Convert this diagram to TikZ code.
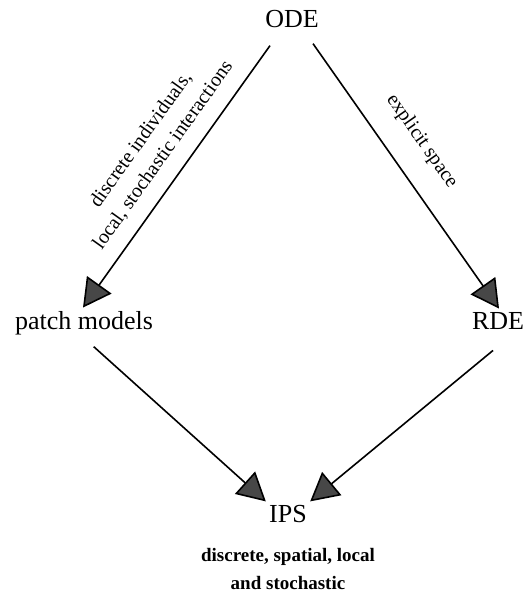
\documentclass[tikz,border=0pt]{standalone}
\usepackage{fontspec}
\setmainfont{Liberation Serif}
\usetikzlibrary{arrows.meta,positioning}

\tikzset{
  model/.style={font=\fontsize{13}{15}\selectfont, inner sep=1.5pt},
  edgelabel/.style={font=\fontsize{10}{13.5}\selectfont, align=center, inner sep=0pt, sloped},
  note/.style={font=\bfseries\fontsize{9.5}{14}\selectfont, align=center, inner sep=0pt},
  arr/.style={line width=0.8pt, -{Triangle[length=14pt,width=15pt,fill=black!72]}}
}

\begin{document}
\begin{tikzpicture}[x=0.5pt, y=-0.5pt]
  \useasboundingbox (0,0) rectangle (525,592);

  % Models
  \node[model, anchor=base] (ode) at (292,28) {ODE};
  \node[model, anchor=base] (patch) at (84,329) {patch models};
  \node[model, anchor=base] (rde) at (498,329) {RDE};
  \node[model, anchor=base] (ips) at (288,522) {IPS};
  \node[note, below=11pt of ips] (ipsnote) {discrete, spatial, local\\and stochastic};

  % ODE to patch models and RDE
  \draw[arr] ([shift={(-11pt,-7pt)}]ode.south) -- ([xshift=-0.5pt]patch.north)
    node[edgelabel, pos=0.47, above=7pt] (lblpatch) {discrete individuals,\\local, stochastic interactions};
  \draw[arr] ([shift={(10.5pt,-6pt)}]ode.south) -- ([xshift=0.5pt]rde.north)
    node[edgelabel, pos=0.44, above=11.5pt] (lblrde) {explicit space};

  % down to IPS
  \draw[arr, shorten <=6.5pt] (patch.south) -- (ips.north west);
  \draw[arr] ([shift={(-2.5pt,-9pt)}]rde.south) -- (ips.north east);
\end{tikzpicture}
\end{document}
